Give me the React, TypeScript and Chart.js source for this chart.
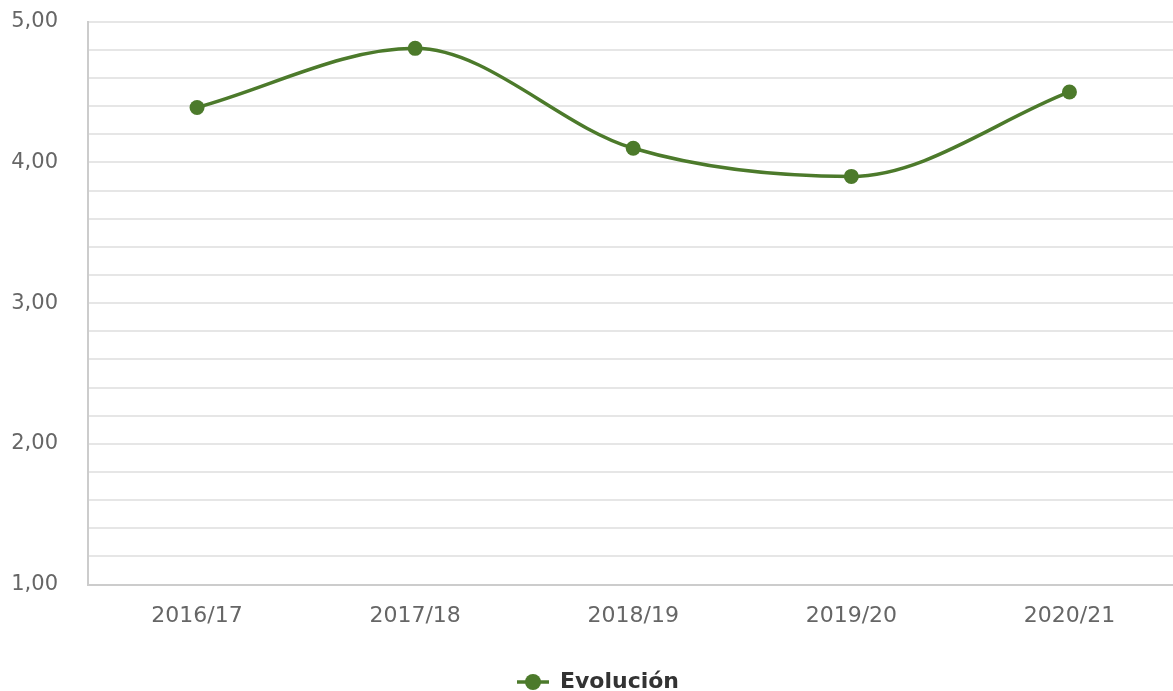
import { useEffect, useRef } from 'react';
import { Chart, registerables } from 'chart.js';

Chart.register(...registerables);

const categories = ['2016/17', '2017/18', '2018/19', '2019/20', '2020/21'];
const seriesName = 'Evolución';
const seriesValues = [4.39, 4.81, 4.1, 3.9, 4.5];
const yMin = 1;
const yMax = 5;
const yStep = 0.2;

const GREEN = '#4c7a2b';

function makeLegendIcon(color: string) {
  const c = document.createElement('canvas');
  c.width = 34;
  c.height = 18;
  const ctx = c.getContext('2d')!;
  ctx.strokeStyle = color;
  ctx.lineWidth = 3.5;
  ctx.beginPath();
  ctx.moveTo(1, 9);
  ctx.lineTo(33, 9);
  ctx.stroke();
  ctx.fillStyle = color;
  ctx.beginPath();
  ctx.arc(17, 9, 8, 0, Math.PI * 2);
  ctx.fill();
  return c;
}

export default function App() {
  const ref = useRef<HTMLCanvasElement | null>(null);

  useEffect(() => {
    if (!ref.current) return;
    const icon = makeLegendIcon(GREEN);
    const chart = new Chart(ref.current, {
      type: 'line',
      data: {
        labels: categories,
        datasets: [
          {
            label: seriesName,
            data: seriesValues,
            borderColor: GREEN,
            backgroundColor: GREEN,
            borderWidth: 3.5,
            pointRadius: 7.5,
            pointHoverRadius: 7.5,
            pointBackgroundColor: GREEN,
            pointBorderWidth: 0,
            cubicInterpolationMode: 'monotone',
            fill: false,
          },
        ],
      },
      options: {
        responsive: false,
        animation: false,
        layout: { padding: { left: 10, right: 0, top: 10, bottom: 4 } },
        plugins: {
          tooltip: { enabled: false },
          legend: {
            position: 'bottom',
            labels: {
              usePointStyle: true,
              pointStyle: icon as any,
              pointStyleWidth: 32,
              boxHeight: 18,
              color: '#333333',
              font: { family: 'DejaVu Sans', size: 22, weight: 'bold' },
              padding: 24,
            },
          },
        },
        scales: {
          x: {
            offset: true,
            grid: { display: false, drawTicks: false },
            border: { display: true, color: '#cccccc', width: 2 },
            ticks: {
              color: '#666666',
              font: { family: 'DejaVu Sans', size: 22 },
              padding: 18,
              maxRotation: 0,
            },
          },
          y: {
            min: yMin,
            max: yMax,
            grid: { color: '#e6e6e6', lineWidth: 2, drawTicks: false },
            border: { display: true, color: '#cccccc', width: 2 },
            afterFit: (scale: any) => {
              scale.width = 78;
            },
            ticks: {
              stepSize: yStep,
              autoSkip: false,
              color: '#666666',
              font: { family: 'DejaVu Sans', size: 21 },
              padding: 30,
              callback: (v: any) => {
                const n = Number(v);
                if (Math.abs(n - Math.round(n)) < 1e-6) {
                  return Math.round(n).toFixed(2).replace('.', ',');
                }
                return '';
              },
            },
          },
        },
      },
    });
    return () => chart.destroy();
  }, []);

  return (
    <div
      style={{
        position: 'absolute',
        left: 0,
        top: 0,
        width: 1173,
        height: 691,
        overflow: 'hidden',
        background: '#ffffff',
      }}
    >
      <canvas
        ref={ref}
        width={1186}
        height={728}
        style={{ display: 'block', position: 'absolute', left: 0, top: -21 }}
      />
    </div>
  );
}
